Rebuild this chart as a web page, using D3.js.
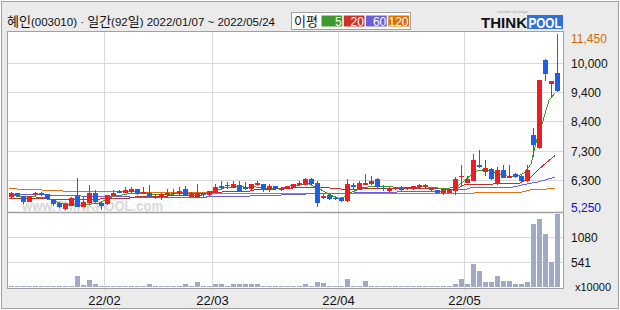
<!DOCTYPE html>
<html>
<head>
<meta charset="utf-8">
<script src="https://cdnjs.cloudflare.com/ajax/libs/d3/7.8.5/d3.min.js"></script>
<style>
  body { margin: 0; background: #fff; }
  svg { display: block; font-family: 'Liberation Sans', 'Noto Sans', sans-serif; }
</style>
</head>
<body>
<svg id="chart" width="620" height="310"></svg>
<script>
'use strict';

// daily candles 2022/01/07 ~ 2022/05/24 (92 trading days)
var opens = [5710, 5840, 5750, 5540, 5770, 5860, 5810, 5630, 5490, 5280,
  5400, 5750, 5370, 5490, 5870, 5510, 5450, 5750, 5940, 5870,
  5890, 5990, 5840, 5860, 5680, 5710, 5770, 5810, 5810, 5990,
  5720, 5680, 5840, 5780, 5870, 6100, 6090, 6050, 6130, 6070,
  5990, 6130, 6160, 5990, 6100, 5950, 5990, 6050, 6130, 6150,
  6360, 6200, 5680, 5780, 5680, 5680, 5570, 6150, 6010, 6140,
  6160, 6360, 6050, 5930, 5980, 6030, 5980, 5990, 6070, 6070,
  6010, 5950, 5840, 5870, 5930, 6420, 6220, 6300, 6820, 6590,
  6700, 6160, 6650, 6380, 6530, 6470, 6280, 7920, 7420, 10150,
  9580, 9810];
var highs = [5890, 5870, 5760, 5750, 5890, 5890, 5820, 5640, 5500, 5460,
  5720, 6380, 5720, 6130, 5950, 5530, 5790, 5950, 5960, 6070,
  6070, 6000, 6070, 6130, 5810, 5840, 5980, 6010, 6070, 6090,
  5890, 6160, 5850, 5930, 6190, 6270, 6240, 6300, 6270, 6240,
  6170, 6270, 6170, 6190, 6120, 6060, 6110, 6170, 6270, 6380,
  6380, 6270, 5810, 5790, 5750, 5690, 6340, 6210, 6270, 6510,
  6440, 6380, 6130, 6070, 6070, 6090, 6080, 6100, 6160, 6190,
  6020, 5960, 6020, 5990, 6420, 6820, 6470, 7200, 7340, 6990,
  6720, 6760, 6820, 6820, 6560, 6480, 6850, 8180, 9650, 10200,
  9640, 11450];
var lows = [5630, 5720, 5480, 5530, 5740, 5750, 5610, 5390, 5330, 5260,
  5390, 5350, 5350, 5470, 5480, 5250, 5440, 5740, 5860, 5860,
  5840, 5790, 5820, 5700, 5630, 5600, 5750, 5740, 5800, 5740,
  5700, 5670, 5680, 5760, 5860, 5950, 6010, 6030, 5910, 5960,
  5970, 6110, 5890, 5890, 5960, 5940, 5980, 6030, 6110, 6140,
  6150, 5370, 5640, 5600, 5600, 5520, 5520, 6010, 6000, 6130,
  6150, 6030, 5920, 5890, 5960, 5920, 5960, 5970, 6020, 6010,
  5940, 5820, 5800, 5860, 5800, 6070, 6200, 6290, 6740, 6450,
  6320, 6150, 6370, 6370, 6400, 6240, 6260, 7100, 7400, 9630,
  9240, 9420];
var closes = [5840, 5750, 5540, 5740, 5860, 5790, 5630, 5450, 5350, 5450,
  5660, 5370, 5540, 5870, 5540, 5400, 5780, 5870, 5870, 5950,
  5990, 5810, 5890, 5720, 5740, 5820, 5840, 5870, 5920, 5750,
  5840, 5870, 5790, 5920, 6070, 6030, 6150, 6160, 5930, 5980,
  6160, 6220, 5990, 6090, 5980, 6050, 6100, 6160, 6210, 6340,
  6160, 5510, 5750, 5640, 5640, 5580, 6160, 6070, 6210, 6210,
  6280, 6080, 5980, 6030, 6050, 5980, 6070, 6090, 6130, 6130,
  5950, 5840, 6010, 5980, 6340, 6470, 6340, 6990, 6760, 6740,
  6340, 6650, 6380, 6470, 6420, 6280, 6650, 7550, 9650, 9790,
  9630, 9440];

// moving averages as drawn (5, 20, 60, 120 days)
var ma5 = [5750, 5750, 5740, 5720, 5720, 5705, 5690, 5600, 5530, 5475,
  5460, 5440, 5425, 5440, 5475, 5495, 5600, 5705, 5760, 5790,
  5830, 5845, 5845, 5830, 5810, 5790, 5790, 5810, 5830, 5830,
  5830, 5830, 5830, 5845, 5915, 5970, 6040, 6070, 6070, 6070,
  6055, 6070, 6055, 6020, 6010, 6000, 6065, 6110, 6125, 6160,
  6185, 6070, 5975, 5845, 5740, 5670, 5720, 5870, 5965, 6055,
  6070, 6090, 6090, 6090, 6070, 6045, 6040, 6040, 6045, 6080,
  6065, 6045, 6020, 6010, 6055, 6145, 6310, 6490, 6630, 6665,
  6630, 6560, 6490, 6455, 6455, 6470, 6575, 6875, 7760, 8430,
  9130, 9380];
var ma20 = [5660, 5660, 5660, 5660, 5660, 5660, 5660, 5635, 5635, 5635,
  5635, 5635, 5635, 5635, 5635, 5635, 5670, 5670, 5670, 5670,
  5670, 5715, 5715, 5715, 5715, 5715, 5715, 5775, 5775, 5775,
  5775, 5775, 5775, 5860, 5860, 5860, 5915, 5915, 5915, 5915,
  5915, 5975, 5975, 5975, 5975, 6020, 6020, 6020, 6055, 6055,
  6055, 6055, 6055, 6055, 6010, 6010, 5975, 5975, 5975, 6000,
  6000, 6000, 6000, 6000, 6000, 6000, 6000, 6000, 6000, 6000,
  6000, 6000, 6000, 5985, 5985, 6055, 6150, 6150, 6150, 6150,
  6150, 6185, 6185, 6185, 6185, 6185, 6300, 6415, 6630, 6815,
  6990, 7160];
var ma60 = [5810, 5810, 5810, 5810, 5810, 5810, 5810, 5750, 5750, 5750,
  5750, 5750, 5750, 5715, 5715, 5715, 5715, 5715, 5715, 5715,
  5715, 5680, 5680, 5680, 5680, 5680, 5680, 5680, 5680, 5680,
  5680, 5680, 5680, 5715, 5715, 5715, 5740, 5740, 5740, 5740,
  5740, 5775, 5775, 5775, 5775, 5775, 5800, 5800, 5800, 5800,
  5835, 5835, 5835, 5835, 5835, 5835, 5835, 5835, 5870, 5870,
  5870, 5870, 5870, 5870, 5870, 5900, 5900, 5900, 5900, 5900,
  5915, 5915, 5915, 5975, 5975, 5975, 5975, 6045, 6045, 6065,
  6065, 6065, 6065, 6065, 6065, 6115, 6160, 6205, 6240, 6300,
  6360, 6415];
var ma120 = [6010, 6010, 5975, 5975, 5975, 5975, 5945, 5945, 5945, 5925,
  5925, 5925, 5925, 5900, 5900, 5900, 5900, 5900, 5900, 5900,
  5900, 5890, 5890, 5890, 5890, 5890, 5890, 5890, 5890, 5890,
  5890, 5890, 5890, 5890, 5840, 5840, 5840, 5840, 5840, 5840,
  5840, 5840, 5840, 5840, 5840, 5840, 5840, 5840, 5840, 5840,
  5840, 5840, 5840, 5840, 5840, 5840, 5840, 5840, 5840, 5840,
  5840, 5840, 5840, 5840, 5840, 5840, 5840, 5840, 5840, 5840,
  5840, 5840, 5840, 5840, 5840, 5840, 5840, 5840, 5870, 5870,
  5870, 5870, 5870, 5870, 5870, 5870, 5915, 5975, 5975, 5975,
  6010, 6010];

// volume, unit x10000 shares
var volumes = [24, 20, 22, 20, 22, 20, 24, 22, 24, 22,
  26, 229, 50, 143, 56, 24, 22, 20, 18, 20,
  22, 20, 18, 56, 22, 20, 18, 20, 22, 56,
  24, 99, 26, 22, 56, 56, 24, 56, 56, 56,
  56, 56, 24, 22, 20, 22, 20, 22, 24, 56,
  26, 99, 78, 24, 22, 24, 164, 26, 24, 121,
  26, 24, 22, 20, 20, 22, 20, 22, 20, 22,
  20, 22, 24, 22, 56, 164, 56, 487, 351, 99,
  99, 229, 121, 121, 56, 56, 99, 1365, 1473, 1149,
  539, 1580];

// axis labels
var priceLevels = [5250, 6300, 7300, 8400, 9400, 10000, 11450];
var priceGrid = [6300, 7300, 8400, 9400, 10000];
var volumeTicks = [541, 1080];
var monthIdx = [16, 34, 55, 76];
var monthLabels = ['22/02', '22/03', '22/04', '22/05'];
var maNames = ['5', '20', '60', '120'];
var maColors = ['#3c9a28', '#c0302a', '#6a5fe0', '#e07010'];
var maBoxColors = ['#3d9a2e', '#c8342a', '#6a5fd8', '#e07000'];

var svg = d3.select('#chart');
var plot = { left: 7.5, right: 563.5, top: 31.5, mid: 212.5, bottom: 288.5 };

// frame
svg.append('rect')
  .attr('x', 1.5).attr('y', 1.5)
  .attr('width', 617).attr('height', 307)
  .attr('fill', '#ebebeb')
  .attr('stroke', '#a0a0a0');

svg.append('rect')
  .attr('x', plot.left).attr('y', plot.top)
  .attr('width', plot.right - plot.left)
  .attr('height', plot.bottom - plot.top)
  .attr('fill', '#fff');

// scales
var x = d3.scaleBand()
  .domain(d3.range(closes.length))
  .range([8.5, 560.5]);

var y = d3.scaleLinear()
  .domain(priceLevels)
  .range([210, 180.5, 151.5, 121.5, 92.5, 63.5, 34]);

var yVol = d3.scaleLinear()
  .domain([0, 1080])
  .range([287, 237]);

function cx(i) {
  return x(i) + x.bandwidth() / 2;
}

// grid
var grid = svg.append('g')
  .attr('stroke', '#d8d8d8')
  .attr('shape-rendering', 'crispEdges');

grid.selectAll('.hp')
  .data(priceGrid)
  .enter()
  .append('line')
  .attr('x1', plot.left).attr('x2', plot.right)
  .attr('y1', function(d) { return y(d); })
  .attr('y2', function(d) { return y(d); });

grid.selectAll('.hv')
  .data(volumeTicks)
  .enter()
  .append('line')
  .attr('x1', plot.left).attr('x2', plot.right)
  .attr('y1', function(d) { return yVol(d) + 0.5; })
  .attr('y2', function(d) { return yVol(d) + 0.5; });

grid.selectAll('.v')
  .data(monthIdx)
  .enter()
  .append('line')
  .attr('x1', function(d) { return x(d); })
  .attr('x2', function(d) { return x(d); })
  .attr('y1', plot.top)
  .attr('y2', 291);

// watermark
svg.append('text')
  .attr('x', 22).attr('y', 211)
  .attr('font-size', 14)
  .attr('font-weight', 'bold')
  .attr('fill', '#cfcfcf')
  .attr('opacity', 0.8)
  .attr('textLength', 141)
  .attr('lengthAdjust', 'spacingAndGlyphs')
  .text('www.THINKPOOL.com');

// moving average lines
var maSeries = [ma120, ma60, ma20, ma5];
var maSeriesColors = [maColors[3], maColors[2], maColors[1], maColors[0]];
var maLine = d3.line()
  .x(function(d, i) { return x(i) + 0.5; })
  .y(function(d) { return y(d); });

svg.selectAll('.ma')
  .data(maSeries)
  .enter()
  .append('path')
  .attr('d', maLine)
  .attr('fill', 'none')
  .attr('stroke', function(d, i) { return maSeriesColors[i]; })
  .attr('stroke-width', 1)
  .attr('shape-rendering', 'crispEdges');

// candles
function candleColor(i) {
  return closes[i] >= opens[i] ? '#ee1d23' : '#1e5fe6';
}

var candles = svg.append('g').attr('shape-rendering', 'crispEdges');

candles.selectAll('line')
  .data(d3.range(closes.length))
  .enter()
  .append('line')
  .attr('x1', cx).attr('x2', cx)
  .attr('y1', function(i) { return y(highs[i]); })
  .attr('y2', function(i) { return y(lows[i]); })
  .attr('stroke', candleColor);

candles.selectAll('rect')
  .data(d3.range(closes.length))
  .enter()
  .append('rect')
  .attr('x', function(i) { return x(i) + 0.5; })
  .attr('width', x.bandwidth() - 1)
  .attr('y', function(i) { return y(Math.max(opens[i], closes[i])); })
  .attr('height', function(i) {
    return Math.max(1.5, Math.abs(y(opens[i]) - y(closes[i])));
  })
  .attr('fill', candleColor);

// volume bars
svg.append('g')
  .attr('shape-rendering', 'crispEdges')
  .selectAll('rect')
  .data(volumes)
  .enter()
  .append('rect')
  .attr('x', function(d, i) { return x(i) + 0.5; })
  .attr('width', x.bandwidth() - 1)
  .attr('y', function(d) { return yVol(d); })
  .attr('height', function(d) { return Math.max(1, yVol(0) - yVol(d)); })
  .attr('fill', '#a0aac4');

// plot borders
svg.append('rect')
  .attr('x', plot.left).attr('y', plot.top)
  .attr('width', plot.right - plot.left)
  .attr('height', plot.bottom - plot.top)
  .attr('fill', 'none')
  .attr('stroke', '#a0a0a0');

svg.append('line')
  .attr('x1', plot.left).attr('x2', plot.right)
  .attr('y1', plot.mid).attr('y2', plot.mid)
  .attr('stroke', '#a0a0a0')
  .attr('stroke-width', 1.5);

// price labels, right side
var priceLabels = [11450, 10000, 9400, 8400, 7300, 6300, 5250];
svg.append('g')
  .selectAll('text')
  .data(priceLabels)
  .enter()
  .append('text')
  .attr('x', 571)
  .attr('y', function(d) { return Math.min(207, Math.max(38, y(d))) + 4.5; })
  .attr('font-size', 12)
  .attr('fill', function(d) {
    if (d === 11450) return '#d06a00';
    if (d === 5250) return '#1010c8';
    return '#111';
  })
  .text(d3.format(','));

// volume labels
svg.append('g')
  .selectAll('text')
  .data(volumeTicks)
  .enter()
  .append('text')
  .attr('x', 571)
  .attr('y', function(d) { return yVol(d) + 5; })
  .attr('font-size', 12)
  .attr('fill', '#111')
  .text(function(d) { return d; });

svg.append('text')
  .attr('x', 575).attr('y', 290.5)
  .attr('font-size', 11)
  .attr('fill', '#111')
  .text('x10000');

// month labels
svg.append('g')
  .selectAll('text')
  .data(monthIdx)
  .enter()
  .append('text')
  .attr('x', function(d) { return x(d); })
  .attr('y', 305)
  .attr('text-anchor', 'middle')
  .attr('font-size', 13)
  .attr('fill', '#111')
  .text(function(d, i) { return monthLabels[i]; });

// title: hangul in CJK font, digits in a narrower latin font
var titleParts = [
  ['혜인', true], ['(003010) · ', false], ['일간', true], ['(92', false],
  ['일', true], [') 2022/01/07 ~ 2022/05/24', false]
];
svg.append('text')
  .attr('x', 7).attr('y', 26)
  .attr('fill', '#111')
  .selectAll('tspan')
  .data(titleParts)
  .enter()
  .append('tspan')
  .attr('font-family', function(d) {
    return d[1] ? "'Noto Sans CJK KR', sans-serif" : "'Liberation Sans', sans-serif";
  })
  .attr('font-size', function(d) { return d[1] ? 13 : 11.5; })
  .text(function(d) { return d[0]; });

// MA legend box
svg.append('rect')
  .attr('x', 291.5).attr('y', 12.5)
  .attr('width', 119).attr('height', 17)
  .attr('fill', '#fff')
  .attr('stroke', '#a0a0a0');

svg.append('text')
  .attr('x', 294).attr('y', 26)
  .attr('font-size', 13)
  .attr('font-family', "'Noto Sans CJK KR', sans-serif")
  .attr('fill', '#111')
  .text('이평');

var legendX = d3.scaleBand()
  .domain(maNames)
  .range([321.5, 409])
  .paddingInner(0.07);

var legend = svg.append('g').selectAll('g')
  .data(maNames)
  .enter()
  .append('g');

legend.append('rect')
  .attr('x', function(d) { return legendX(d); })
  .attr('y', 15.5)
  .attr('width', legendX.bandwidth())
  .attr('height', 11)
  .attr('fill', function(d, i) { return maBoxColors[i]; });

legend.append('text')
  .attr('x', function(d) { return legendX(d) + legendX.bandwidth() - 0.5; })
  .attr('y', 25.5)
  .attr('text-anchor', 'end')
  .attr('font-size', 12)
  .attr('fill', '#fff')
  .text(function(d) { return d; });

// logo
svg.append('text')
  .attr('x', 481).attr('y', 27.5)
  .attr('font-size', 15)
  .attr('font-weight', 'bold')
  .attr('fill', '#111')
  .attr('textLength', 46)
  .attr('lengthAdjust', 'spacingAndGlyphs')
  .text('THINK');

svg.append('rect')
  .attr('x', 527).attr('y', 15)
  .attr('width', 36).attr('height', 14)
  .attr('fill', '#2f6fd8');

svg.append('text')
  .attr('x', 528.5).attr('y', 27.5)
  .attr('font-size', 15)
  .attr('font-weight', 'bold')
  .attr('fill', '#fff')
  .attr('textLength', 33)
  .attr('lengthAdjust', 'spacingAndGlyphs')
  .text('POOL');

svg.append('text')
  .attr('x', 497).attr('y', 12.5)
  .attr('font-size', 4)
  .attr('fill', '#aaa')
  .text('member package');
</script>
</body>
</html>
